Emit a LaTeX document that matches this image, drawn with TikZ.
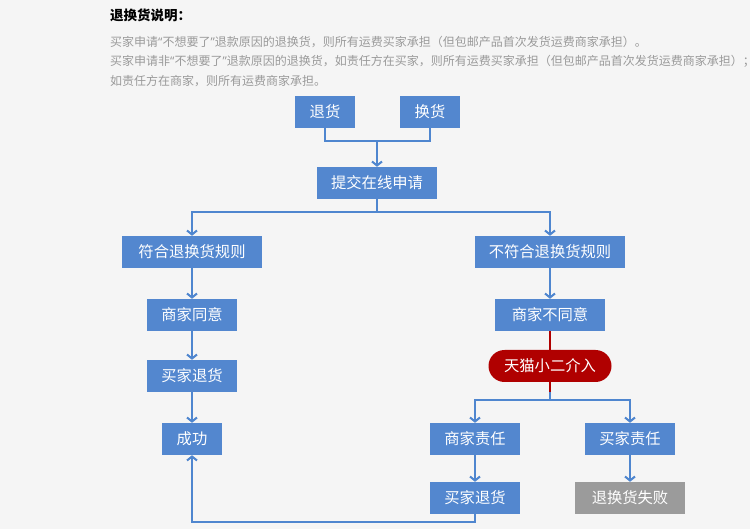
\documentclass[tikz,border=0pt]{standalone}
\usepackage{fontspec}
\newfontfamily\cjk{Noto Sans CJK SC}
\newfontfamily\latinq{Noto Sans}
\newcommand\openq{{\latinq “}}
\newcommand\closeq{{\latinq ”}}
\usetikzlibrary{arrows.meta}
\definecolor{boxblue}{HTML}{5387CF}
\definecolor{lineblue}{HTML}{4F86CF}
\definecolor{tmred}{HTML}{B00000}
\definecolor{failgray}{HTML}{9B9B9B}
\definecolor{bggray}{HTML}{F5F5F5}
\definecolor{notegray}{HTML}{9A9A9A}
\tikzset{
  box/.style={fill=boxblue, text=white, minimum height=32, inner sep=0pt,
    font=\cjk\fontsize{15.3}{15}\selectfont},
  pill/.style={box, fill=tmred, rounded corners=16},
  failbox/.style={box, fill=failgray},
  line/.style={draw=lineblue, line width=2pt},
  link/.style={line, -{Straight Barb[length=4pt,width=10pt,line width=2pt]}},
  redline/.style={draw=tmred, line width=2pt},
  note/.style={anchor=west, inner sep=0pt, text=notegray,
    font=\cjk\fontsize{12}{12}\selectfont}
}
\begin{document}
\begin{tikzpicture}[x=1pt, y=-1pt]
  \fill[bggray] (0,0) rectangle (750,529);
  \clip (0,0) rectangle (750,529);
  \node[anchor=west, inner sep=0pt, font=\cjk\bfseries\fontsize{13.5}{13}\selectfont] (title) at (110,15) {退换货说明：};
  \node[note] (n1) at (110,42) {买家申请\openq 不想要了\closeq 退款原因的退换货，则所有运费买家承担（但包邮产品首次发货运费商家承担）。};
  \node[note] (n2) at (110,61) {买家申请非\openq 不想要了\closeq 退款原因的退换货，如责任方在买家，则所有运费买家承担（但包邮产品首次发货运费商家承担）；};
  \node[note] (n3) at (110,81) {如责任方在商家，则所有运费商家承担。};

  \node[box, minimum width=60] (th) at (325,112) {退货};
  \node[box, minimum width=60] (hh) at (430,112) {换货};
  \node[box, minimum width=120] (sq) at (377,183) {提交在线申请};
  \node[box, minimum width=140] (fh) at (192,252) {符合退换货规则};
  \node[box, minimum width=150] (bfh) at (550,252) {不符合退换货规则};
  \node[box, minimum width=90] (ty) at (192,315) {商家同意};
  \node[box, minimum width=110] (bty) at (550,315) {商家不同意};
  \node[box, minimum width=90] (mt1) at (192,376) {买家退货};
  \node[box, minimum width=60] (cg) at (192,439) {成功};
  \node[pill, minimum width=123] (tm) at (550,366) {天猫小二介入};
  \node[box, minimum width=90] (sz) at (475,439) {商家责任};
  \node[box, minimum width=90] (mz) at (630,439) {买家责任};
  \node[box, minimum width=90] (mt2) at (475,498) {买家退货};
  \node[failbox, minimum width=110] (sb) at (630,498) {退换货失败};

  \coordinate (j1) at (377,141);
  \coordinate (j2) at (377,212);
  \coordinate (j3) at (550,400);
  \coordinate (j4) at (475,522);
  \coordinate (r1) at (550,392);

  \draw[line] (th.south) |- (j1);
  \draw[line] (hh.south) |- (j1);
  \draw[link] (j1) -- (sq.north);
  \draw[line] (sq.south) -- (j2);
  \draw[link] (j2) -| (fh.north);
  \draw[link] (j2) -| (bfh.north);
  \draw[link] (fh) -- (ty);
  \draw[link] (ty) -- (mt1);
  \draw[link] (mt1) -- (cg);
  \draw[link] (bfh) -- (bty);
  \draw[redline] (bty) -- (tm);
  \draw[redline] (tm.south) -- (r1);
  \draw[line] (r1) -- (j3);
  \draw[link] (j3) -| (sz.north);
  \draw[link] (j3) -| (mz.north);
  \draw[link] (sz) -- (mt2);
  \draw[link] (mz) -- (sb);
  \draw[link] (mt2.south) -- (j4) -| (cg.south);
\end{tikzpicture}
\end{document}
